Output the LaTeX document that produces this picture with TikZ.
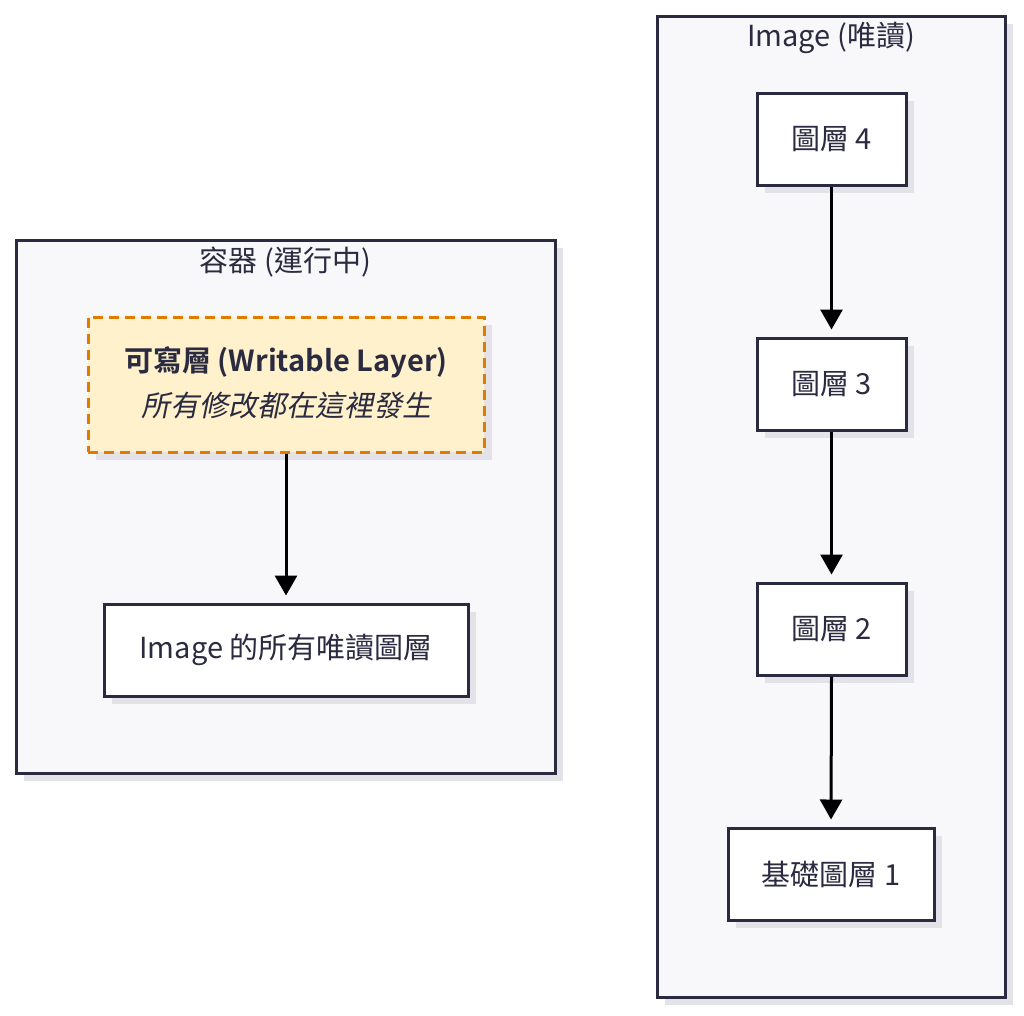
\documentclass[tikz,border=0pt]{standalone}
\usepackage{fontspec}
\setmainfont{Noto Sans CJK TC}[BoldFont={* Bold},ItalicFont={*},ItalicFeatures={FakeSlant=0.2}]
\usetikzlibrary{arrows.meta,shadows}
\definecolor{ink}{HTML}{2A2A40}
\definecolor{clfill}{HTML}{F8F8FB}
\definecolor{shade}{HTML}{E2E2E8}
\definecolor{wfill}{HTML}{FFF1CC}
\definecolor{worange}{HTML}{E07B00}
\begin{document}
\begin{tikzpicture}[x=1pt,y=-1pt,
  every node/.style={font=\fontsize{29}{34}\selectfont, text=ink},
  shad/.style={drop shadow={shadow xshift=8pt,shadow yshift=-8pt,fill=shade,opacity=1}},
  cluster/.style={draw=ink,line width=3pt,fill=clfill,shad,rectangle,inner sep=0pt},
  box/.style={draw=ink,line width=3pt,fill=white,shad,rectangle,inner sep=0pt},
  wbox/.style={draw=worange,line width=3pt,fill=wfill,dash pattern=on 10pt off 6pt,shad,rectangle,inner sep=0pt,align=center},
  arr/.style={line width=3pt,draw=black,-{Triangle[length=20pt,width=22pt]},shorten >=7pt}
]
\useasboundingbox[fill=white] (0,0) rectangle (1024,1015);
% clusters
\node[cluster,minimum width=539pt,minimum height=533pt] (cont) at (285.5,506.5) {};
\node[cluster,minimum width=348pt,minimum height=981pt] (img) at (831,506.5) {};
\node (conttitle) at (285.5,262) {容器 (運行中)};
\node (imgtitle) at (831,38) {Image (唯讀)};
% left nodes
\node[wbox,minimum width=396pt,minimum height=135pt] (wl) at (286,384.5) {};
\node (wlt1) at (286,362) {\textbf{可寫層 (Writable Layer)}};
\node (wlt2) at (286,405) {\textit{所有修改都在這裡發生}};
\node[box,minimum width=364pt,minimum height=92pt] (ro) at (286,650) {Image 的所有唯讀圖層};
% right nodes
\node[box,minimum width=149pt,minimum height=92pt] (l4) at (831.5,139) {圖層 4};
\node[box,minimum width=149pt,minimum height=92pt] (l3) at (831.5,384) {圖層 3};
\node[box,minimum width=149pt,minimum height=92pt] (l2) at (831.5,629) {圖層 2};
\node[box,minimum width=206pt,minimum height=92pt] (l1) at (831,874) {基礎圖層 1};
% arrows
\draw[arr] (wl.south) -- (ro.north);
\draw[arr] (l4.south) -- (l3.north);
\draw[arr] (l3.south) -- (l2.north);
\draw[arr] (l2.south) -- (l1.north);
\end{tikzpicture}
\end{document}
